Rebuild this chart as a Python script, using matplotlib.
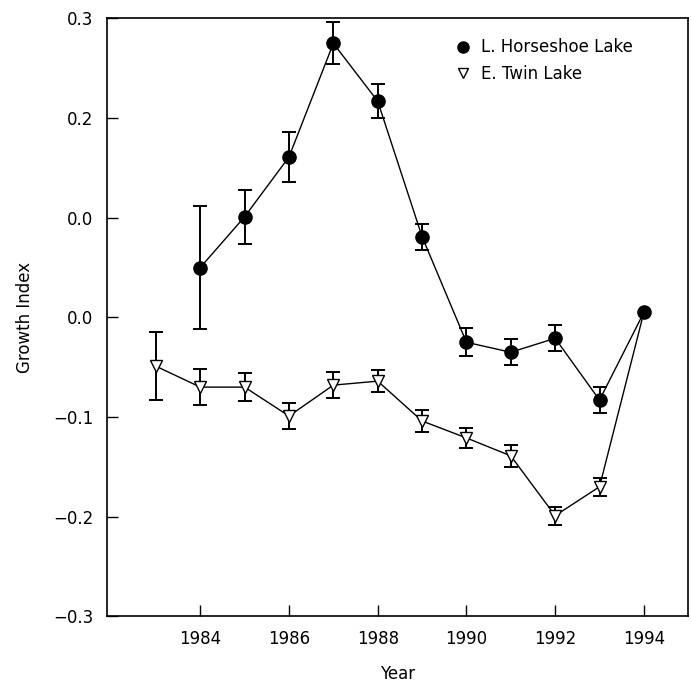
import matplotlib
matplotlib.use("Agg")
import matplotlib.pyplot as plt
from matplotlib.lines import Line2D

years_h = [1984, 1985, 1986, 1987, 1988, 1989, 1990, 1991, 1992, 1993, 1994]
horseshoe = [0.050, 0.101, 0.161, 0.275, 0.217, 0.081, -0.025, -0.035, -0.021, -0.083, 0.005]
horseshoe_err = [0.062, 0.027, 0.025, 0.021, 0.017, 0.013, 0.014, 0.013, 0.013, 0.013, 0.0]

years_t = [1983, 1984, 1985, 1986, 1987, 1988, 1989, 1990, 1991, 1992, 1993, 1994]
twin = [-0.049, -0.070, -0.070, -0.099, -0.068, -0.064, -0.104, -0.121, -0.139, -0.199, -0.170, 0.005]
twin_err = [0.034, 0.018, 0.014, 0.013, 0.013, 0.011, 0.011, 0.010, 0.011, 0.009, 0.009, 0.0]

yticks = [0.3, 0.2, 0.1, 0.0, -0.1, -0.2, -0.3]
ytick_labels = ["0.3", "0.2", "0.0", "0.0", "\u22120.1", "\u22120.2", "\u22120.3"]
xticks = [1984, 1986, 1988, 1990, 1992, 1994]


def draw(ax, x, y, err, z, **marker_kw):
    # error bars and markers only where there is an error (1994 is the reference year)
    keep = [i for i, e in enumerate(err) if e > 0]
    ax.errorbar([x[i] for i in keep], [y[i] for i in keep], yerr=[err[i] for i in keep],
                fmt="none", ecolor="black", elinewidth=1.4, capsize=5, capthick=1.4,
                zorder=z)
    ax.plot(x, y, color="black", linewidth=1.0, zorder=z, **marker_kw)


fig = plt.figure(figsize=(6.91, 6.84), dpi=100)
ax = fig.add_axes([0.155, 0.099, 0.841, 0.874])

draw(ax, years_t, twin, twin_err, 2, marker="v", markerfacecolor="white", markersize=8,
     markevery=list(range(len(years_t) - 1)))
draw(ax, years_h, horseshoe, horseshoe_err, 3, marker="o", markersize=9.5)

ax.set_xlim(1981.9, 1995.0)
ax.set_ylim(-0.3, 0.3)
ax.set_xticks(xticks)
ax.set_xticklabels([str(y) for y in xticks])
ax.set_yticks(yticks)
ax.set_yticklabels(ytick_labels)
ax.tick_params(direction="in", length=8, width=1, labelsize=12, pad=10)
ax.set_xlabel("Year", fontsize=12, labelpad=12)
ax.set_ylabel("Growth Index", fontsize=12, labelpad=14)
for s in ax.spines.values():
    s.set_linewidth(1.2)

handles = [
    Line2D([], [], color="black", marker="o", linestyle="none", markersize=8),
    Line2D([], [], color="black", marker="v", markerfacecolor="white",
           linestyle="none", markersize=7),
]
ax.legend(handles, ["L. Horseshoe Lake", "E. Twin Lake"], loc="upper right",
          frameon=False, fontsize=12, handletextpad=0.6, handlelength=1.0,
          borderaxespad=0.8, bbox_to_anchor=(0.94, 1.0))

fig.savefig("out.png", dpi=100)
